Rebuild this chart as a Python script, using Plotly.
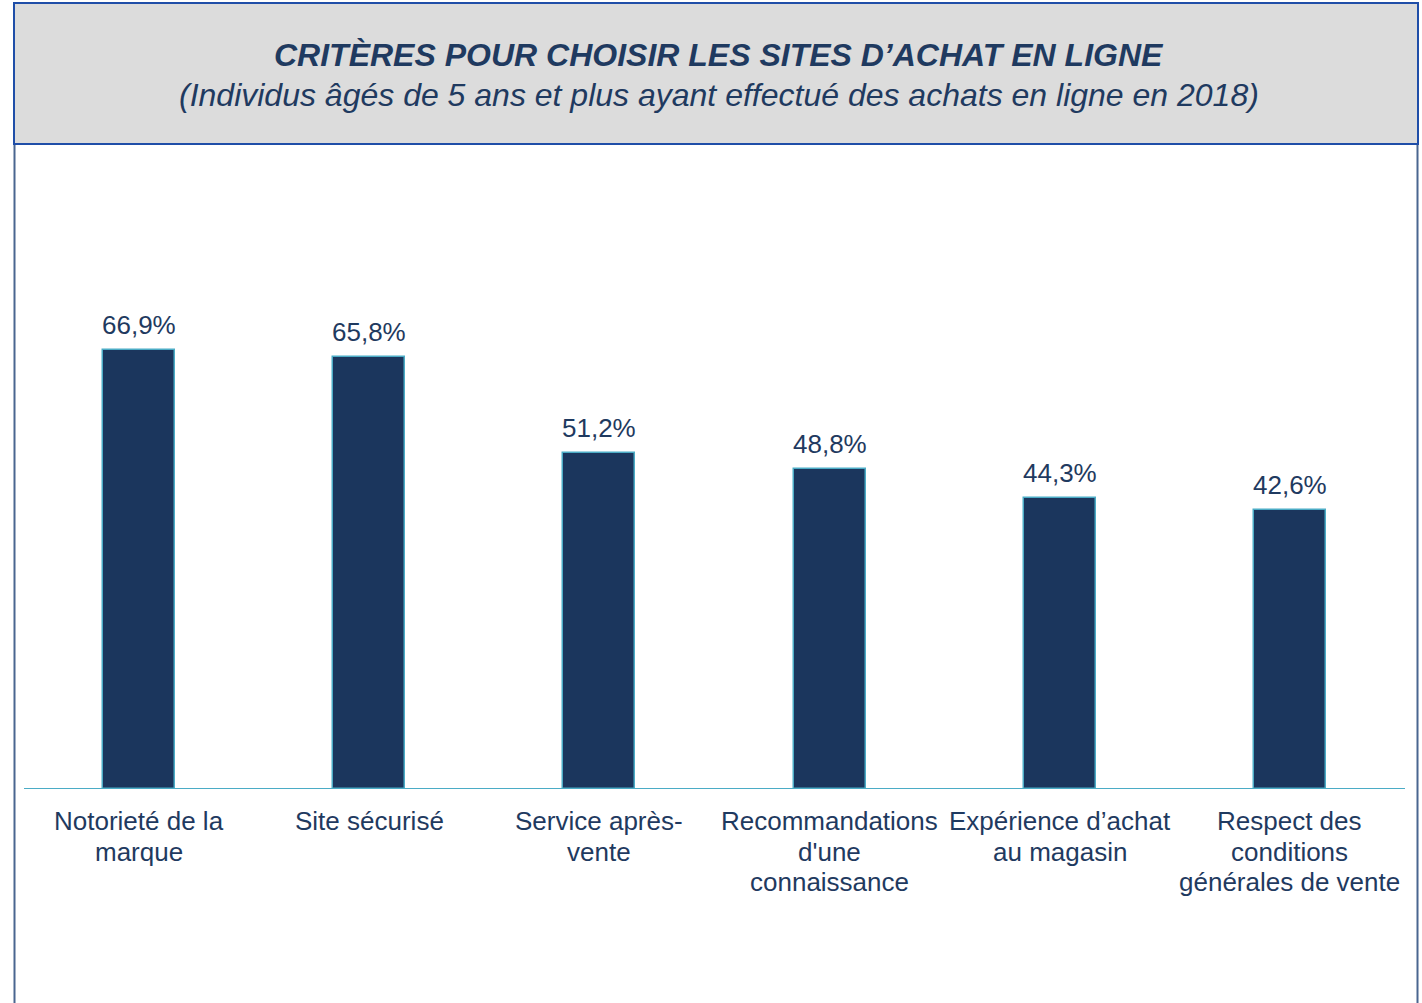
import plotly.graph_objects as go

# Survey data: purchase criteria for online shopping sites (2018)
category_lines = [
    ["Notorieté de la", "marque"],
    ["Site sécurisé"],
    ["Service après-", "vente"],
    ["Recommandations", "d'une", "connaissance"],
    ["Expérience d’achat", "au magasin"],
    ["Respect des", "conditions", "générales de vente"],
]
values = [66.9, 65.8, 51.2, 48.8, 44.3, 42.6]
value_labels = [f"{v:.1f}".replace(".", ",") + "%" for v in values]

title_text = "CRITÈRES POUR CHOISIR LES SITES D’ACHAT EN LIGNE"
subtitle_text = "(Individus âgés de 5 ans et plus ayant effectué des achats en ligne en 2018)"

W, H = 1422, 1003
ML, MR, MT, MB = 24, 17, 160, 214
PW, PH = W - ML - MR, H - MT - MB

NAVY = "#1b365d"
TEXT = "#1f3a60"
TEAL = "#4bacc6"
FONT = "Liberation Sans, Arial, sans-serif"
LABEL_SIZE = 26


def px_x(x):
    return (x - ML) / PW


def px_y(y):
    return (H - MB - y) / PH


x_idx = list(range(len(category_lines)))

fig = go.Figure(
    go.Bar(
        x=x_idx,
        y=values,
        width=0.313,
        marker=dict(color=NAVY, line=dict(color=TEAL, width=1.5)),
        hoverinfo="skip",
    )
)

annotations = []
# value labels above bars
for i, (v, t) in enumerate(zip(values, value_labels)):
    annotations.append(
        dict(x=i, y=v, xref="x", yref="y", text=t, showarrow=False,
             yanchor="middle", yshift=25,
             font=dict(family=FONT, size=LABEL_SIZE, color=TEXT))
    )

# category labels below the baseline, one line each
for i, lines in enumerate(category_lines):
    for k, line in enumerate(lines):
        annotations.append(
            dict(x=i, y=0, xref="x", yref="y", text=line, showarrow=False,
                 xanchor="center", yanchor="middle",
                 yshift=-(32 + 30.5 * k),
                 font=dict(family=FONT, size=LABEL_SIZE, color=TEXT))
        )

annotations.append(
    dict(x=px_x(718.5), y=px_y(55), xref="paper", yref="paper",
         text=f"<b><i>{title_text}</i></b>", showarrow=False,
         xanchor="center", yanchor="middle",
         font=dict(family=FONT, size=32, color=TEXT))
)
annotations.append(
    dict(x=px_x(718.5), y=px_y(95), xref="paper", yref="paper",
         text=f"<i>{subtitle_text}</i>", showarrow=False,
         xanchor="center", yanchor="middle",
         font=dict(family=FONT, size=32, color=TEXT))
)

shapes = [
    # header band
    dict(type="rect", xref="paper", yref="paper",
         x0=px_x(14), x1=px_x(1418), y0=px_y(144), y1=px_y(3),
         fillcolor="#dcdcdc", line=dict(color="#1f4ea8", width=2), layer="below"),
    # side frame lines
    dict(type="line", xref="paper", yref="paper",
         x0=px_x(14.5), x1=px_x(14.5), y0=px_y(145), y1=px_y(1003),
         line=dict(color="#4a6690", width=2)),
    dict(type="line", xref="paper", yref="paper",
         x0=px_x(1417.5), x1=px_x(1417.5), y0=px_y(145), y1=px_y(1003),
         line=dict(color="#4a6690", width=2)),
    # baseline
    dict(type="line", xref="paper", yref="y",
         x0=0, x1=1, y0=0, y1=0,
         line=dict(color=TEAL, width=2)),
]

fig.update_layout(
    width=W, height=H,
    margin=dict(l=ML, r=MR, t=MT, b=MB, pad=0),
    paper_bgcolor="white", plot_bgcolor="white",
    showlegend=False,
    bargap=0,
    xaxis=dict(
        range=[-0.5, len(category_lines) - 0.5],
        visible=False, showgrid=False, zeroline=False,
        fixedrange=True,
    ),
    yaxis=dict(
        range=[0, PH / 6.56],
        visible=False, showgrid=False, zeroline=False,
        fixedrange=True,
    ),
    annotations=annotations,
    shapes=shapes,
)

fig.write_html("out.html")
